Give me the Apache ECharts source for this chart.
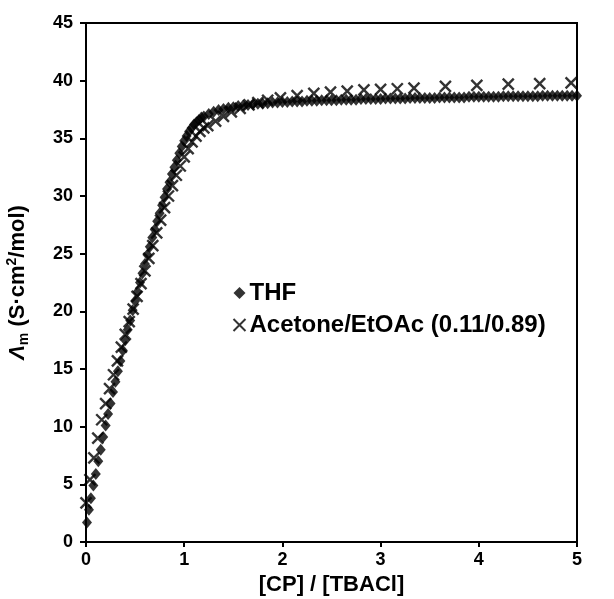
<!DOCTYPE html>
<html>
<head>
<meta charset="utf-8">
<script src="https://cdn.jsdelivr.net/npm/echarts@6/dist/echarts.min.js"></script>
<style>
  html, body { margin: 0; padding: 0; background: #fff; }
  #main { width: 614px; height: 599px; }
</style>
</head>
<body>
<div id="main"></div>
<script>
// THF
var thfX = [0.01, 0.03, 0.05, 0.075, 0.10, 0.125, 0.15, 0.175, 0.20, 0.225, 0.25, 0.275, 0.30, 0.325,
    0.35, 0.375, 0.40, 0.425, 0.45, 0.475, 0.50, 0.525, 0.55, 0.575, 0.60, 0.625, 0.65, 0.675,
    0.70, 0.725, 0.75, 0.775, 0.80, 0.825, 0.85, 0.875, 0.90, 0.925, 0.95, 0.975, 1.00, 1.025,
    1.05, 1.075, 1.10, 1.125, 1.15, 1.175, 1.20,
    1.25, 1.30, 1.35, 1.40, 1.45, 1.50, 1.55, 1.60, 1.65, 1.70, 1.75, 1.80, 1.85, 1.90, 1.95,
    2.00, 2.05, 2.10, 2.15, 2.20, 2.25, 2.30, 2.35, 2.40, 2.45, 2.50, 2.55, 2.60, 2.65, 2.70,
    2.75, 2.80, 2.85, 2.90, 2.95, 3.00, 3.05, 3.10, 3.15, 3.20, 3.25, 3.30, 3.35, 3.40, 3.45,
    3.50, 3.55, 3.60, 3.65, 3.70, 3.75, 3.80, 3.85, 3.90, 3.95, 4.00, 4.05, 4.10, 4.15, 4.20,
    4.25, 4.30, 4.35, 4.40, 4.45, 4.50, 4.55, 4.60, 4.65, 4.70, 4.75, 4.80, 4.85, 4.90, 4.95, 5.00];
var thfY = [1.7, 2.8, 3.8, 4.9, 5.9, 7.0, 8.0, 9.1, 10.1, 11.1, 12.0, 13.0, 13.9, 14.8,
    15.7, 16.6, 17.5, 18.4, 19.2, 20.1, 20.9, 21.7, 22.5, 23.3, 24.1, 24.9, 25.6, 26.4,
    27.1, 27.8, 28.5, 29.2, 29.9, 30.6, 31.2, 31.9, 32.5, 33.1, 33.7, 34.3, 34.8, 35.2,
    35.6, 35.9, 36.2, 36.4, 36.6, 36.8, 36.9,
    37.1, 37.3, 37.45, 37.55, 37.65, 37.7, 37.8, 37.85, 37.9, 37.95, 38.0, 38.0, 38.05, 38.1, 38.1,
    38.15, 38.15, 38.2, 38.2, 38.2, 38.25, 38.25, 38.25, 38.3, 38.3, 38.3, 38.3, 38.35, 38.35, 38.35,
    38.35, 38.4, 38.4, 38.4, 38.4, 38.4, 38.45, 38.45, 38.45, 38.45, 38.45, 38.5, 38.5, 38.5, 38.5,
    38.5, 38.5, 38.55, 38.55, 38.55, 38.55, 38.55, 38.55, 38.6, 38.6, 38.6, 38.6, 38.6, 38.6, 38.6,
    38.65, 38.65, 38.65, 38.65, 38.65, 38.65, 38.65, 38.65, 38.7, 38.7, 38.7, 38.7, 38.7, 38.7, 38.7, 38.7];

// Acetone/EtOAc (0.11/0.89)
var acX = [0.00, 0.04, 0.08, 0.12, 0.16, 0.20, 0.24, 0.28, 0.32, 0.36, 0.40, 0.44, 0.48, 0.52, 0.56,
    0.60, 0.64, 0.68, 0.72, 0.76, 0.80, 0.84, 0.88, 0.92, 0.96, 1.00, 1.04, 1.08, 1.12, 1.16,
    1.20, 1.24, 1.32, 1.40, 1.48, 1.57, 1.66, 1.75, 1.85, 1.98,
    2.15, 2.32, 2.49, 2.66, 2.83, 3.00, 3.17, 3.34, 3.66, 3.98, 4.30, 4.62, 4.94];
var acY = [3.4, 5.4, 7.3, 9.0, 10.6, 12.0, 13.3, 14.5, 15.7, 16.9, 18.0, 19.1, 20.2, 21.3, 22.4,
    23.5, 24.6, 25.7, 26.8, 27.9, 29.0, 30.0, 30.9, 31.8, 32.6, 33.4, 34.1, 34.7, 35.2, 35.6,
    35.9, 36.1, 36.5, 36.9, 37.3, 37.6, 37.9, 38.1, 38.3, 38.5,
    38.7, 38.9, 39.0, 39.1, 39.2, 39.25, 39.3, 39.35, 39.5, 39.6, 39.7, 39.75, 39.8];

var xTicks = [0, 1, 2, 3, 4, 5];
var yTicks = [0, 5, 10, 15, 20, 25, 30, 35, 40, 45];

var names = ['THF', 'Acetone/EtOAc (0.11/0.89)'];
var crossPath = 'path://M0,0L10,10M10,0L0,10';

function pairs(xs, ys) {
    return xs.map(function (x, i) { return [x, ys[i]]; });
}

var myChart = echarts.init(document.getElementById('main'));

var font = 'Liberation Sans, Arial, sans-serif';

var option = {
    animation: false,
    textStyle: { fontFamily: font },
    grid: {
        left: 86, right: 37, top: 23, bottom: 57,
        outerBoundsMode: 'none',
        show: true, borderColor: '#000', borderWidth: 2
    },
    legend: {
        orient: 'vertical',
        left: 226, top: 276,
        itemGap: 8,
        itemWidth: 12, itemHeight: 12,
        textStyle: { fontFamily: font, fontSize: 24, fontWeight: 'bold', color: '#000', padding: [0, 0, 0, -1] },
        data: [
            { name: names[0], icon: 'diamond' },
            { name: names[1], icon: crossPath, itemStyle: { color: 'none', borderColor: '#000', borderWidth: 2 } }
        ]
    },
    xAxis: {
        type: 'value',
        min: xTicks[0], max: xTicks[xTicks.length - 1], interval: 1,
        name: '[CP] / [TBACl]',
        nameLocation: 'middle', nameGap: 31,
        nameTextStyle: { fontFamily: font, fontSize: 22, fontWeight: 'bold', color: '#000' },
        axisLine: { lineStyle: { color: '#000', width: 2 } },
        axisTick: { show: true, length: 5, lineStyle: { color: '#000', width: 2 } },
        axisLabel: { fontFamily: font, fontSize: 18, fontWeight: 'bold', color: '#000', margin: 9 },
        splitLine: { show: false }
    },
    yAxis: {
        type: 'value',
        min: yTicks[0], max: yTicks[yTicks.length - 1], interval: 5,
        name: '{it|Λ}{sub|m}{b| (S·cm}{sup|2}{b|/mol)}',
        nameLocation: 'middle', nameGap: 55,
        nameTextStyle: {
            fontFamily: font, fontSize: 22, fontWeight: 'bold', color: '#000',
            rich: {
                it: { fontFamily: font, fontSize: 22, fontStyle: 'italic', fontWeight: 'bold', color: '#000', lineHeight: 26, verticalAlign: 'middle' },
                sub: { fontFamily: font, fontSize: 14, fontWeight: 'bold', color: '#000', lineHeight: 26, verticalAlign: 'bottom' },
                b: { fontFamily: font, fontSize: 22, fontWeight: 'bold', color: '#000', lineHeight: 26, verticalAlign: 'middle' },
                sup: { fontFamily: font, fontSize: 14, fontWeight: 'bold', color: '#000', lineHeight: 26, verticalAlign: 'top' }
            }
        },
        axisLine: { show: true, lineStyle: { color: '#000', width: 2 } },
        axisTick: { show: true, length: 6, lineStyle: { color: '#000', width: 2 } },
        axisLabel: { fontFamily: font, fontSize: 18, fontWeight: 'bold', color: '#000', margin: 13 },
        splitLine: { show: false }
    },
    series: [
        {
            name: names[1],
            type: 'scatter',
            symbol: crossPath,
            symbolSize: 11,
            itemStyle: { color: 'none', borderColor: '#000', borderWidth: 2.4 },
            data: pairs(acX, acY)
        },
        {
            name: names[0],
            type: 'scatter',
            symbol: 'diamond',
            symbolSize: [10, 12],
            itemStyle: { color: '#000' },
            data: pairs(thfX, thfY)
        }
    ]
};

myChart.setOption(option);
</script>
</body>
</html>
